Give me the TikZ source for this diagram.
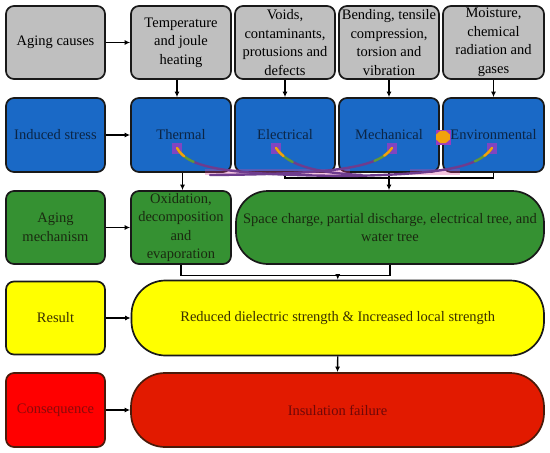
\documentclass[tikz,border=0pt]{standalone}
\usepackage{fontspec}
\setmainfont{Liberation Serif}
\usetikzlibrary{arrows.meta,shapes.geometric}
\definecolor{grayc}{HTML}{BFBFBF}
\definecolor{bluec}{HTML}{1A69C6}
\definecolor{bluetxt}{HTML}{0B2545}
\definecolor{greenc}{HTML}{359132}
\definecolor{greentxt}{HTML}{1A2A10}
\definecolor{yellowc}{HTML}{FFFF00}
\definecolor{yellowtxt}{HTML}{3A3000}
\definecolor{redc}{HTML}{FF0000}
\definecolor{redc2}{HTML}{E21A00}
\definecolor{redtxt}{HTML}{8B0A0A}
\definecolor{redline}{HTML}{4A1A0A}
\definecolor{curvec}{HTML}{6E3C8E}
\definecolor{magc}{HTML}{9A3CC0}
\definecolor{pinkc}{HTML}{E0409A}
\definecolor{tipc}{HTML}{F2A20C}
\definecolor{tipg}{HTML}{5E9A3A}
\tikzset{
  box/.style={draw=black!90, line width=1.7pt, rounded corners=8pt, minimum width=100pt,
    minimum height=74pt, inner sep=0pt, align=center, font=\fontsize{14.5}{18.5}\selectfont},
  pill/.style={box, rounded corners=34pt},
  arr/.style={line width=1.4pt, -{Latex[length=5.5pt,width=5pt]}},
  lnk/.style={line width=1.4pt},
  crv/.style={line width=2.4pt, curvec, line cap=round},
  crvg/.style={line width=2.4pt, tipg, line cap=round, dash pattern=on 22pt off 2000pt},
  crvo/.style={line width=2.4pt, tipc, line cap=round, dash pattern=on 11pt off 2000pt},
}
\begin{document}
\begin{tikzpicture}[x=1pt,y=-1pt]
\useasboundingbox[fill=white] (0,0) rectangle (550,453);
% Row 1
\node[box, fill=grayc, minimum width=99pt, minimum height=73pt] (cause) at (55.5,42.5) {Aging causes};
\node[box, fill=grayc, minimum height=73pt] (temp) at (181,42.5) {Temperature\\and joule\\heating};
\node[box, fill=grayc, minimum height=73pt] (voids) at (285,42.5) {Voids,\\contaminants,\\protusions and\\defects};
\node[box, fill=grayc, minimum height=73pt] (bend) at (389,42.5) {Bending, tensile\\compression,\\torsion and\\vibration};
\node[box, fill=grayc, minimum height=73pt, minimum width=101pt] (moist) at (493.5,42.5) {Moisture,\\chemical\\radiation and\\gases};
% Row 2
\node[box, fill=bluec, text=bluetxt, minimum width=99pt] (stress) at (55.5,135) {Induced stress};
\node[box, fill=bluec, text=bluetxt] (therm) at (181,135) {Thermal};
\node[box, fill=bluec, text=bluetxt] (elec) at (285,135) {Electrical};
\node[box, fill=bluec, text=bluetxt] (mech) at (389,135) {Mechanical};
\node[box, fill=bluec, text=bluetxt, minimum width=101pt] (env) at (493.5,135) {Environmental};
% Row 3
\node[box, fill=greenc, text=greentxt, minimum width=99pt, minimum height=73pt] (mechan) at (55.5,227.5) {Aging\\mechanism};
\node[box, fill=greenc, text=greentxt, minimum height=73pt] (oxid) at (181,227.5) {Oxidation,\\decomposition\\and\\evaporation};
\node[pill, fill=greenc, text=greentxt, rounded corners=32pt, minimum width=308pt, minimum height=73pt] (space) at (390,227.5) {Space charge, partial discharge, electrical tree, and\\water tree};
% Row 4
\node[box, fill=yellowc, text=yellowtxt, minimum width=99pt, minimum height=73pt] (result) at (55.5,318) {Result};
\node[pill, fill=yellowc, text=yellowtxt, minimum width=412.5pt, minimum height=75pt] (reduced) at (337.75,318) {Reduced dielectric strength \& Increased local strength};
% Row 5
\node[box, fill=redc, draw=redline, text=redtxt, minimum width=99pt] (conseq) at (55.5,410) {Consequence};
\node[pill, fill=redc2, draw=redline, text=redtxt!80!black, minimum width=413pt] (fail) at (337.5,410) {Insulation failure};
% connectors
\draw[arr] (cause) -- (temp);
\draw[arr] ([xshift=-4pt]temp.south) -- ([xshift=-4pt]therm.north);
\draw[arr] (voids) -- (elec);
\draw[arr] (bend) -- (mech);
\draw[arr] (moist) -- (env);
\draw[arr] (stress) -- (therm);
\draw[arr] ([xshift=1.5pt]therm.south) -- ([xshift=1.5pt]oxid.north);
\draw[lnk] (elec.south) -- ++(0,5) -| (env.south);
\draw[arr] (mech.south) -- (mech.south |- space.north);
\draw[arr] (mechan) -- (oxid);
\draw[lnk] (oxid.south) -- ++(0,10.5) -| (space.south);
\coordinate (gj) at (reduced.north |- 0,274.5);
\draw[arr] (gj) -- (reduced.north);
\draw[arr] (result) -- (reduced);
\draw[arr] (reduced.south) -- (fail.north);
\draw[arr] (conseq) -- (fail);
% curved stroke marks
\fill[pinkc, opacity=0.3] (205,169) rectangle (350,175);
\fill[pinkc, opacity=0.3] (410,169) rectangle (460,175);
\foreach \x/\y in {177/149, 276/149, 392/149, 492/149}{
  \fill[magc, opacity=0.8] (\x-5,\y-6) rectangle (\x+5,\y+5);
}
\draw[crv] (177,148) .. controls (188,168) and (225,175) .. (350,176);
\draw[crvg] (177,148) .. controls (188,168) and (225,175) .. (350,176);
\draw[crvo] (177,148) .. controls (188,168) and (225,175) .. (350,176);
\draw[crv] (276,148) .. controls (288,166) and (318,173) .. (362,175);
\draw[crvg] (276,148) .. controls (288,166) and (318,173) .. (362,175);
\draw[crvo] (276,148) .. controls (288,166) and (318,173) .. (362,175);
\draw[crv] (392,148) .. controls (378,168) and (335,174) .. (210,175);
\draw[crvg] (392,148) .. controls (378,168) and (335,174) .. (210,175);
\draw[crvo] (392,148) .. controls (378,168) and (335,174) .. (210,175);
\draw[crv] (492,148) .. controls (478,168) and (440,174) .. (350,176);
\draw[crvg] (492,148) .. controls (478,168) and (440,174) .. (350,176);
\draw[crvo] (492,148) .. controls (478,168) and (440,174) .. (350,176);
% octagon mark
\fill[magc] (435.5,129.5) rectangle (450.5,144.5);
\node[regular polygon, regular polygon sides=8, fill=tipc, minimum size=13pt, inner sep=0pt, xscale=1.15] (oct) at (443,137) {};
\end{tikzpicture}
\end{document}
